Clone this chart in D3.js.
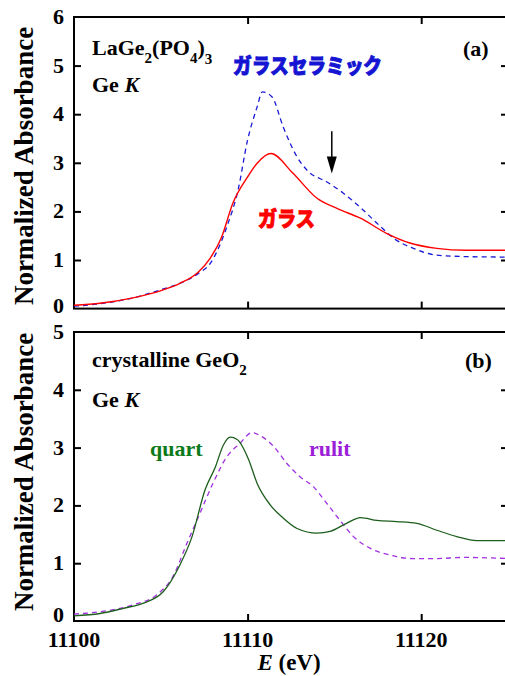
<!DOCTYPE html>
<html><head><meta charset="utf-8">
<script src="https://cdn.jsdelivr.net/npm/d3@7"></script>
<style>body{margin:0;background:#fff} svg{display:block}
.sf{font-family:"Liberation Serif","Tinos","Times New Roman","Nimbus Roman","DejaVu Serif",serif;font-weight:bold}
.jp{font-family:"Noto Sans CJK JP","Noto Sans CJK SC",sans-serif;font-weight:900}
</style>
</head><body>
<script>
// ---- data ----
const energyTicks = [11100, 11110, 11120];
const topYTicks = [0, 1, 2, 3, 4, 5, 6];
const botYTicks = [0, 1, 2, 3, 4, 5];

// (a) glass (ガラス), solid red
const glassE = [11100, 11101.5, 11103.4, 11105.1, 11106.1, 11107.15, 11107.85, 11108.5, 11109.15, 11110.0, 11110.55, 11111.35, 11112.6, 11114.0, 11115.15, 11116.5, 11118.0, 11119.35, 11120.9, 11122.6, 11125];
const glassV = [0.07, 0.11, 0.22, 0.38, 0.52, 0.75, 1.04, 1.47, 2.17, 2.71, 2.99, 3.19, 2.79, 2.27, 2.06, 1.86, 1.55, 1.35, 1.24, 1.2, 1.2];

// (a) glass ceramic (ガラスセラミック), dashed blue
const ceramicE = [11100, 11101.5, 11103.4, 11105.1, 11106.1, 11107.15, 11107.85, 11108.8, 11109.45, 11110.0, 11110.55, 11110.85, 11111.4, 11112.05, 11112.85, 11113.5, 11114.55, 11115.5, 11116.65, 11117.65, 11118.4, 11119.55, 11120.9, 11122.6, 11125];
const ceramicV = [0.05, 0.1, 0.22, 0.4, 0.52, 0.72, 0.93, 1.68, 2.44, 3.47, 4.15, 4.46, 4.36, 3.74, 3.12, 2.82, 2.61, 2.38, 2.03, 1.69, 1.45, 1.24, 1.1, 1.07, 1.06];

// arrow in (a)
const arrowE = [11114.85];
const arrowV = [3.65, 2.78];

// (b) quartz-type GeO2, solid green
const quartE = [11100, 11101.5, 11102.85, 11104.0, 11105.15, 11106.1, 11106.8, 11107.55, 11108.15, 11108.6, 11109.0, 11109.4, 11110.05, 11110.55, 11111.3, 11112.05, 11112.85, 11114.0, 11114.75, 11115.7, 11116.5, 11117.45, 11118.6, 11119.75, 11120.9, 11122.05, 11123.2, 11125];
const quartV = [0.09, 0.13, 0.22, 0.31, 0.51, 0.97, 1.46, 2.27, 2.67, 3.04, 3.18, 3.14, 2.8, 2.38, 2.01, 1.78, 1.6, 1.52, 1.55, 1.69, 1.79, 1.74, 1.72, 1.69, 1.57, 1.46, 1.39, 1.39];

// (b) rutile-type GeO2, dashed purple
const rulitE = [11100, 11101.5, 11103.4, 11104.75, 11105.7, 11106.5, 11107.25, 11108.0, 11108.8, 11109.55, 11110.25, 11110.7, 11111.5, 11112.25, 11113.0, 11113.8, 11114.55, 11115.3, 11116.1, 11117.05, 11118.2, 11119.55, 11120.9, 11122.45, 11125];
const rulitV = [0.12, 0.16, 0.28, 0.45, 0.77, 1.34, 1.86, 2.38, 2.84, 3.07, 3.26, 3.21, 3.02, 2.73, 2.5, 2.32, 2.04, 1.75, 1.46, 1.26, 1.14, 1.08, 1.08, 1.1, 1.08];

// ---- drawing ----
const W = 505, H = 676;
const svg = d3.select("body").append("svg").attr("width", W).attr("height", H);

const x = d3.scaleLinear().domain([11100, 11125]).range([74, 508]);
const yTop = d3.scaleLinear().domain([0, 6]).range([308.6, 17]);
const yBot = d3.scaleLinear().domain([0, 5]).range([621, 332]);

function panel(y, yTicks, showX) {
  const g = svg.append("g");
  const [y0, y1] = y.range();
  const tl = 7;
  g.append("g").attr("transform", `translate(0,${y0})`)
    .call(d3.axisTop(x).tickValues(energyTicks.slice(1)).tickSize(tl).tickFormat(""));
  g.append("g").attr("transform", `translate(0,${y1})`)
    .call(d3.axisBottom(x).tickValues(energyTicks.slice(1)).tickSize(tl).tickFormat(""));
  g.append("g").attr("transform", `translate(${x.range()[0]},0)`)
    .call(d3.axisRight(y).tickValues(yTicks.slice(1, -1)).tickSize(tl).tickFormat(""));
  g.append("g").attr("transform", `translate(${x.range()[1]},0)`)
    .call(d3.axisLeft(y).tickValues(yTicks.slice(1, -1)).tickSize(tl).tickFormat(""));
  g.selectAll(".domain").remove();
  g.selectAll(".tick line").attr("stroke", "#000").attr("stroke-width", 2);
  g.append("rect").attr("x", x.range()[0]).attr("y", y1)
    .attr("width", x.range()[1] - x.range()[0]).attr("height", y0 - y1)
    .attr("fill", "none").attr("stroke", "#000").attr("stroke-width", 2);
  g.selectAll(".ylab").data(yTicks).enter().append("text").attr("class", "sf")
    .attr("x", 64).attr("y", d => y(d) + (d === 0 ? (showX ? 1 : 4) : 7))
    .attr("text-anchor", "end").attr("font-size", 22).text(d => d);
  if (showX) {
    g.selectAll(".xlab").data(energyTicks).enter().append("text").attr("class", "sf")
      .attr("x", d => x(d)).attr("y", 647)
      .attr("text-anchor", "middle").attr("font-size", 22).text(d => d);
  }
  return g;
}

const gA = panel(yTop, topYTicks, false);
const gB = panel(yBot, botYTicks, true);

function series(g, y, E, V, color, dash, width) {
  const pts = E.map((e, i) => [e, V[i]]);
  g.append("path").datum(pts)
    .attr("d", d3.line().x(d => x(d[0])).y(d => y(d[1])).curve(d3.curveMonotoneX))
    .attr("fill", "none").attr("stroke", color).attr("stroke-width", width)
    .attr("stroke-dasharray", dash);
}
series(gA, yTop, ceramicE, ceramicV, "#1a1ad6", "5,4", 1.3);
series(gA, yTop, glassE, glassV, "#ff0000", null, 1.4);
series(gB, yBot, rulitE, rulitV, "#a030e0", "5,4", 1.3);
series(gB, yBot, quartE, quartV, "#1d5e1d", null, 1.3);

// arrow
const ax = x(arrowE[0]);
gA.append("line").attr("x1", ax).attr("x2", ax).attr("y1", yTop(arrowV[0])).attr("y2", yTop(arrowV[1]) - 14)
  .attr("stroke", "#000").attr("stroke-width", 1.5);
gA.append("path")
  .attr("d", `M${ax - 5},${yTop(arrowV[1]) - 17} L${ax + 5},${yTop(arrowV[1]) - 17} L${ax},${yTop(arrowV[1])} Z`)
  .attr("fill", "#000");

// y axis titles
function ytitle(cy) {
  svg.append("text").attr("class", "sf").attr("transform", `translate(33,${cy}) rotate(-90)`)
    .attr("text-anchor", "middle").attr("font-size", 27).text("Normalized Absorbance");
}
ytitle(166);
ytitle(472);

// x title
const xt = svg.append("text").attr("class", "sf").attr("x", 289).attr("y", 670).attr("text-anchor", "middle")
  .attr("font-size", 23);
xt.append("tspan").attr("font-style", "italic").text("E");
xt.append("tspan").text(" (eV)");

function txt(xp, yp, size) {
  return svg.append("text").attr("class", "sf").attr("x", xp).attr("y", yp).attr("font-size", size);
}
// panel (a) labels
const t1 = txt(92, 55, 22);
t1.append("tspan").text("LaGe");
t1.append("tspan").attr("font-size", 15).attr("dy", 8).text("2");
t1.append("tspan").attr("dy", -8).text("(PO");
t1.append("tspan").attr("font-size", 15).attr("dy", 8).text("4");
t1.append("tspan").attr("dy", -8).text(")");
t1.append("tspan").attr("font-size", 15).attr("dy", 9).text("3");
const t2 = txt(92, 92, 22);
t2.append("tspan").text("Ge ");
t2.append("tspan").attr("font-style", "italic").text("K");
txt(463, 56, 22).text("(a)");

svg.append("text").attr("class", "jp").attr("x", 233).attr("y", 73)
  .attr("font-size", 21).attr("fill", "#1414d2").attr("stroke", "#1414d2").attr("stroke-width", 0.9)
  .attr("textLength", 149).attr("lengthAdjust", "spacingAndGlyphs").text("ガラスセラミック");
svg.append("text").attr("class", "jp").attr("x", 258).attr("y", 226)
  .attr("font-size", 21).attr("fill", "#ff0000").attr("stroke", "#ff0000").attr("stroke-width", 0.9)
  .attr("textLength", 57).attr("lengthAdjust", "spacingAndGlyphs").text("ガラス");

// panel (b) labels
const t3 = txt(92, 367, 22);
t3.append("tspan").text("crystalline GeO");
t3.append("tspan").attr("font-size", 15).attr("dy", 8).text("2");
const t4 = txt(92, 407, 22);
t4.append("tspan").text("Ge ");
t4.append("tspan").attr("font-style", "italic").text("K");
txt(465, 368, 22).text("(b)");
txt(150, 456, 22).attr("fill", "#0b7a1a").text("quart");
txt(309, 456, 22).attr("fill", "#9b20d8").text("rulit");
</script>
</body></html>
